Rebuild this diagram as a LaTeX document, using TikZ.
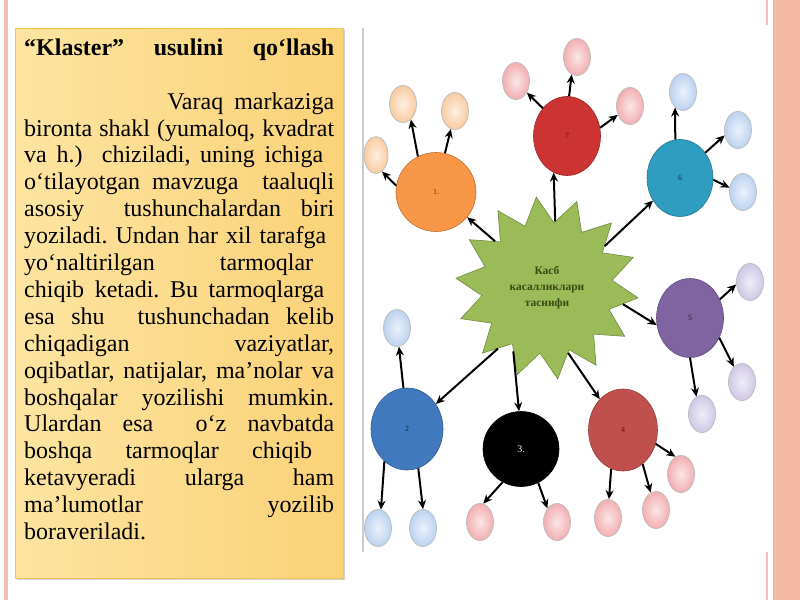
\documentclass[tikz,border=0pt]{standalone}
\usepackage{fontspec}
\setmainfont{Liberation Serif}
\usepackage{tikz}
\usetikzlibrary{shapes.geometric,arrows.meta,shadows}
\usepackage{xcolor}
\frenchspacing

\definecolor{boxl}{HTML}{FCE4A0}
\definecolor{boxm}{HTML}{FFF2BE}
\definecolor{boxr}{HTML}{FBD278}
\definecolor{boxd}{HTML}{F0C35C}
\definecolor{pinkl}{HTML}{F6BDB8}
\definecolor{salmon}{HTML}{F3B9A4}
\definecolor{orng}{HTML}{F79646}
\definecolor{redc}{HTML}{CC3333}
\definecolor{tealc}{HTML}{2E9DC0}
\definecolor{purp}{HTML}{8064A2}
\definecolor{redd}{HTML}{C0504D}
\definecolor{bluec}{HTML}{4079BE}
\definecolor{starg}{HTML}{9BBB59}
\definecolor{stard}{HTML}{71893F}
\definecolor{stxt}{HTML}{3A4A12}
\definecolor{sorng}{HTML}{F9CBA0}
\definecolor{spink}{HTML}{F2AEB2}
\definecolor{sblue}{HTML}{BCD2F0}
\definecolor{slav}{HTML}{CFC7E6}

\begin{document}
\begin{tikzpicture}[x=1pt,y=-1pt,
  bigc/.style={ellipse,draw=#1!75!black,fill=#1,line width=0.6pt,inner sep=0pt,font=\fontsize{8}{8}\selectfont},
  sat/.style={ellipse,draw=gray!50,line width=0.8pt,inner color=#1!30!white,outer color=#1,minimum width=27pt,minimum height=37pt,inner sep=0pt},
  arr/.style={-{Stealth[length=9pt,width=8pt]},line width=2pt}]
  \useasboundingbox (0,0) rectangle (800,600);
  \fill[white] (0,0) rectangle (800,600);
  \fill[pinkl] (4,0) rectangle (8,600); % left stripe
  \fill[salmon] (773,0) rectangle (800,600); % right stripe
  \draw[pinkl,line width=1.5pt] (767,0) -- (767,25);
  \draw[pinkl,line width=1.5pt] (767,552) -- (767,600);
  \draw[gray!40,line width=1.5pt] (363,28) -- (363,552);

  % text panel
  \draw[boxd,line width=0.8pt,left color=boxl,middle color=boxm,right color=boxr,
    drop shadow={shadow xshift=1.5pt,shadow yshift=-2pt,opacity=0.35}] (15,28) rectangle (343,578);
  \node[anchor=north west,inner sep=0pt,align=left,font=\fontsize{24}{26.9}\selectfont] (txt) at (24,38.5) {%
    \makebox[310pt][s]{\bfseries “Klaster”\ usulini\ qo‘llash}\\[26.9pt]
    \makebox[310pt][r]{Varaq\hspace{11pt}markaziga}\\
    \makebox[310pt][s]{bironta shakl (yumaloq, kvadrat}\\
    \makebox[299pt][s]{va h.)\ \ chiziladi, uning ichiga}\\
    \makebox[310pt][s]{o‘tilayotgan mavzuga\ \ taaluqli}\\
    \makebox[310pt][s]{asosiy\ \ tushunchalardan biri}\\
    \makebox[302pt][s]{yoziladi. Undan har xil tarafga}\\
    \makebox[289pt][s]{yo‘naltirilgan tarmoqlar}\\
    \makebox[300pt][s]{chiqib ketadi. Bu tarmoqlarga}\\
    \makebox[310pt][s]{esa shu\ \ tushunchadan kelib}\\
    \makebox[310pt][s]{chiqadigan vaziyatlar,}\\
    \makebox[310pt][s]{oqibatlar, natijalar, ma’nolar va}\\
    \makebox[310pt][s]{boshqalar yozilishi mumkin.}\\
    \makebox[310pt][s]{Ulardan esa\ \ o‘z navbatda}\\
    \makebox[288pt][s]{boshqa\ \ tarmoqlar\ \ chiqib}\\
    \makebox[310pt][s]{ketavyeradi ularga ham}\\
    \makebox[310pt][s]{ma’lumotlar yozilib}\\
    boraveriladi.};

  % cluster
  \node[star,star points=14,star point height=26pt,shape border rotate=-19,
    fill=starg,draw=stard,line width=0.6pt,inner sep=9pt,text=stxt,align=center,
    font=\fontsize{11.5}{16}\selectfont\bfseries] (star) at (547,288) {Касб\\касалликлари\\таснифи};

  \node[bigc=orng,minimum width=80pt,minimum height=79pt,text=orng!40!black] (c1) at (436,192) {1.};
  \node[bigc=redc,minimum width=67pt,minimum height=79pt,text=redc!40!black] (c7) at (567,136) {7};
  \node[bigc=tealc,minimum width=66pt,minimum height=77pt,text=tealc!30!black] (c6) at (680,178) {6};
  \node[bigc=purp,minimum width=67pt,minimum height=79pt,text=purp!30!black] (c5) at (690,318) {5};
  \node[bigc=redd,minimum width=69pt,minimum height=82pt,text=redd!40!black] (c4) at (623,430) {4};
  \node[bigc=black,minimum width=76pt,minimum height=75pt,text=white,font=\fontsize{10}{10}\selectfont] (c3) at (521,449) {3.};
  \node[bigc=bluec,minimum width=72pt,minimum height=82pt,text=bluec!30!black] (c2) at (407,429) {2};

  \node[sat=sorng,minimum width=24pt] (s1a) at (376,155) {};
  \node[sat=sorng] (s1b) at (403,104) {};
  \node[sat=sorng] (s1c) at (455,111) {};
  \node[sat=spink] (s7a) at (516,81) {};
  \node[sat=spink] (s7b) at (577,57) {};
  \node[sat=spink] (s7c) at (630,106) {};
  \node[sat=sblue] (s6a) at (683,92) {};
  \node[sat=sblue] (s6b) at (738,130) {};
  \node[sat=sblue] (s6c) at (743,192) {};
  \node[sat=slav] (s5a) at (750,282) {};
  \node[sat=slav] (s5b) at (742,382) {};
  \node[sat=slav] (s5c) at (702,414) {};
  \node[sat=spink] (s4a) at (681,474) {};
  \node[sat=spink] (s4b) at (656,510) {};
  \node[sat=spink] (s4c) at (608,518) {};
  \node[sat=spink] (s3a) at (480,522) {};
  \node[sat=spink] (s3b) at (557,522) {};
  \node[sat=sblue] (s2a) at (397,328) {};
  \node[sat=sblue] (s2b) at (378,528) {};
  \node[sat=sblue] (s2c) at (423,528) {};

  \draw[arr] (star.138) -- (c1.-39);
  \draw[arr] (star.83) -- (c7.-110);
  \draw[arr] (star.36) -- (c6.220);
  \draw[arr] (star.-12) -- (c5.192);
  \draw[arr] (star.-72) -- (c4.127);
  \draw[arr] (star.-118) -- (c3.93);
  \draw[arr] (star.-129) -- (c2.41);

  \draw[arr] (c1.171) -- (s1a.-70);
  \draw[arr] (c1.117) -- (s1b.-63);
  \draw[arr] (c1.77) -- (s1c.-103);
  \draw[arr] (c7.131) -- (s7a.-47);
  \draw[arr] (c7.87) -- (s7b.-107);
  \draw[arr] (c7.14) -- (s7c.-144);
  \draw[arr] (c6.97) -- (s6a.-117);
  \draw[arr] (c6.45) -- (s6b.-158);
  \draw[arr] (c6.-3) -- (s6c.162);
  \draw[arr] (c5.32) -- (s5a.190);
  \draw[arr] (c5.-34) -- (s5b.118);
  \draw[arr] (c5.-90) -- (s5c.108);
  \draw[arr] (c4.-23) -- (s4a.108);
  \draw[arr] (c4.-60) -- (s4b.107);
  \draw[arr] (c4.-107) -- (s4c.87);
  \draw[arr] (c3.-119) -- (s3a.80);
  \draw[arr] (c3.-63) -- (s3b.125);
  \draw[arr] (c2.95) -- (s2a.-84);
  \draw[arr] (c2.-125) -- (s2b.81);
  \draw[arr] (c2.-74) -- (s2c.90);
\end{tikzpicture}
\end{document}
